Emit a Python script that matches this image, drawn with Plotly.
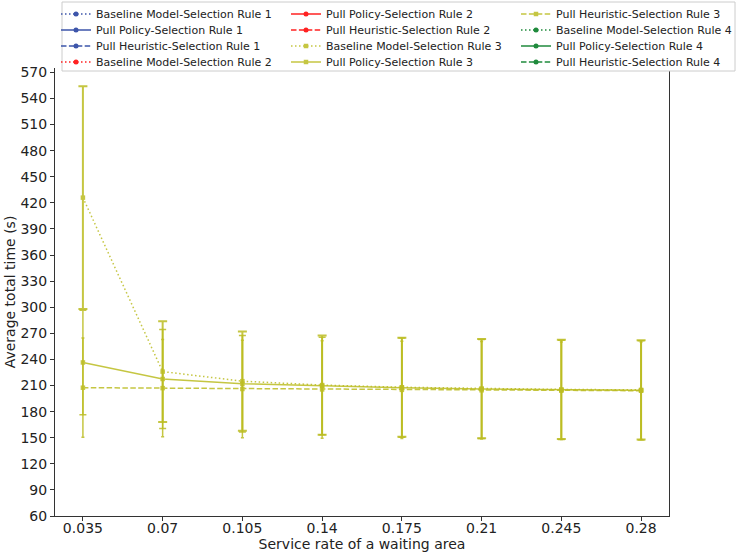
import plotly.graph_objects as go

# ---- data ----
service_rates = ["0.035", "0.07", "0.105", "0.14", "0.175", "0.21", "0.245", "0.28"]
y_ticks = list(range(60, 571, 30))

# Rule 3 (the only series with data shown)
baseline_r3 = [426, 226, 215, 210.5, 208, 206.5, 205.5, 205]
baseline_r3_err = [128, 58, 57, 57, 57, 57, 57, 57]
policy_r3 = [236.5, 217.5, 212, 209.5, 207.5, 206, 205, 204.5]
policy_r3_err = [60, 57, 55.5, 56, 57, 57, 57, 57]
heuristic_r3 = [207.5, 207, 206, 205.5, 205, 204.5, 204, 204]
heuristic_r3_err = [57, 56, 56, 56, 56, 56, 56, 56]

# Rules 1, 2, 4 appear only in the legend (no visible marks: all missing)
missing_y = [None] * len(service_rates)

series_names = [
    "Baseline Model-Selection Rule 1", "Pull Policy-Selection Rule 1", "Pull Heuristic-Selection Rule 1",
    "Baseline Model-Selection Rule 2", "Pull Policy-Selection Rule 2", "Pull Heuristic-Selection Rule 2",
    "Baseline Model-Selection Rule 3", "Pull Policy-Selection Rule 3", "Pull Heuristic-Selection Rule 3",
    "Baseline Model-Selection Rule 4", "Pull Policy-Selection Rule 4", "Pull Heuristic-Selection Rule 4",
]

rule_colors = {1: "#3d55aa", 2: "#ff2222", 3: "#bcbd22", 4: "#1f8a3c"}
dashes = ["1.5px,2.5px", "solid", "5.5px,2.4px"]

r3_data = {
    0: (baseline_r3, baseline_r3_err, 4.5, 2.0),
    1: (policy_r3, policy_r3_err, 3.5, 1.5),
    2: (heuristic_r3, heuristic_r3_err, 1.5, 1.5),
}

FONT = "DejaVu Sans"
fig = go.Figure()

# plot area geometry (px)
L, R, T, B = 55, 71, 68, 41
W, H = 740, 557
pw, ph = W - L - R, H - T - B

col_text_x = [96, 326, 556]
row_y = [14, 30, 46, 62]

layout_legends = {}
for i, name in enumerate(series_names):
    rule = i // 3 + 1
    kind = i % 3
    col, row = divmod(i, 4)
    lname = "legend" if i == 0 else f"legend{i+1}"
    color = rule_colors[rule]
    if rule == 3:
        yv, ev, cw, th = r3_data[kind]
        fig.add_trace(go.Scatter(
            x=service_rates, y=yv, name=name, mode="lines+markers",
            line=dict(color=color, width=1.5, dash=dashes[kind]),
            marker=dict(symbol="square", size=4.5, color=color),
            error_y=dict(type="data", array=ev, visible=True, color=color,
                         thickness=th, width=cw),
            opacity=0.85, legend=lname,
        ))
    else:
        fig.add_trace(go.Scatter(
            x=service_rates, y=missing_y, name=name, mode="lines+markers",
            line=dict(color=color, width=1.5, dash=dashes[kind]),
            marker=dict(symbol="circle", size=5, color=color),
            legend=lname,
        ))
    lx = col_text_x[col] - 40
    ly = row_y[row]
    layout_legends[lname] = dict(
        x=(lx - L) / pw, xanchor="left",
        y=(H - B - ly) / ph, yanchor="middle",
        bgcolor="rgba(0,0,0,0)", borderwidth=0,
        font=dict(family=FONT, size=11, color="#222"),
        orientation="v",
    )

fig.update_layout(**layout_legends)

# legend frame
fig.add_shape(type="rect", xref="paper", yref="paper",
              x0=(62 - L) / pw, x1=(735 - L) / pw,
              y0=(H - B - 71) / ph, y1=(H - B - 2) / ph,
              line=dict(color="#cccccc", width=1), fillcolor="white", layer="above")

fig.update_layout(
    width=W, height=H,
    margin=dict(l=L, r=R, t=T, b=B, pad=0, autoexpand=False),
    paper_bgcolor="white", plot_bgcolor="white",
    font=dict(family=FONT, size=14, color="#222"),
    showlegend=True,
    xaxis=dict(
        type="category", categoryorder="array", categoryarray=service_rates,
        range=[-0.35, 7.35], showgrid=False, zeroline=False,
        showline=True, linecolor="#333", linewidth=1, mirror=False,
        ticks="outside", ticklen=4, tickcolor="#333", ticklabelstandoff=-5,
        tickfont=dict(family=FONT, size=14, color="#222"),
        title=dict(text="Service rate of a waiting area", standoff=3,
                   font=dict(family=FONT, size=14, color="#222")),
    ),
    yaxis=dict(
        range=[60, 575], tickvals=y_ticks, showgrid=False, zeroline=False,
        showline=True, linecolor="#333", linewidth=1, mirror=True,
        ticks="outside", ticklen=4, tickcolor="#333",
        tickfont=dict(family=FONT, size=14, color="#222"),
        title=dict(text="Average total time (s)", standoff=1,
                   font=dict(family=FONT, size=14, color="#222")),
    ),
)

fig.write_html("out.html")
